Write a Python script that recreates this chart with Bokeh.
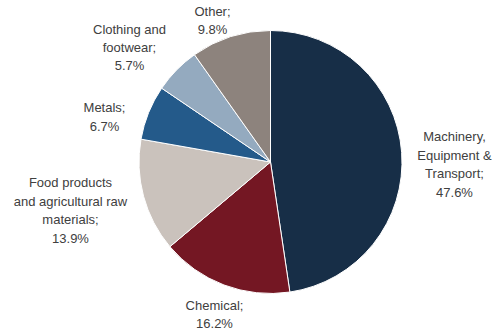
import math
from bokeh.plotting import figure
from bokeh.models import Range1d, ColumnDataSource
from bokeh.core.properties import value
from bokeh.embed import file_html
from bokeh.resources import INLINE

# ---- data ----
categories = ["Machinery,\nEquipment &\nTransport;", "Chemical;",
              "Food products\nand agricultural raw\nmaterials;", "Metals;",
              "Clothing and\nfootwear;", "Other;"]
shares = [47.6, 16.2, 13.9, 6.7, 5.7, 9.8]
colors = ["#172e47", "#741723", "#cac2bc", "#245a8a", "#94aabf", "#8d837d"]

# ---- layout (pixel-like coords, y up) ----
W, H = 492, 331
cx, cy, r = 270, 331 - 161.5, 131.5
label_x = [454, 214, 70, 104, 129, 212]
label_y_img = [164, 314, 210, 116.5, 47, 20]

total = sum(shares)
starts, ends = [], []
cum = 0.0
for s in shares:
    a0 = math.pi / 2 - 2 * math.pi * cum / total
    cum += s
    a1 = math.pi / 2 - 2 * math.pi * cum / total
    starts.append(a0)
    ends.append(a1)

src = ColumnDataSource(dict(start=starts, end=ends, color=colors))

p = figure(width=W, height=H, output_backend="svg", toolbar_location=None,
           x_range=Range1d(0, W), y_range=Range1d(331 - H, 331),
           min_border=0)
p.axis.visible = False
p.grid.visible = False
p.outline_line_color = None
p.background_fill_color = "white"
p.border_fill_color = "white"

p.wedge(x=cx, y=cy, radius=r, start_angle="start", end_angle="end",
        direction="clock", fill_color="color", line_color="white",
        line_width=1, source=src)

texts = [f"{c}\n{s:.1f}%" for c, s in zip(categories, shares)]
lsrc = ColumnDataSource(dict(x=label_x, y=[331 - v for v in label_y_img], t=texts))
p.text(x="x", y="y", text="t", source=lsrc, text_align="center",
       text_baseline="middle", text_font=value("Liberation Sans"),
       text_font_size="13px", text_color="#404040", text_line_height=1.23)

open("out.html", "w").write(file_html(p, INLINE))
